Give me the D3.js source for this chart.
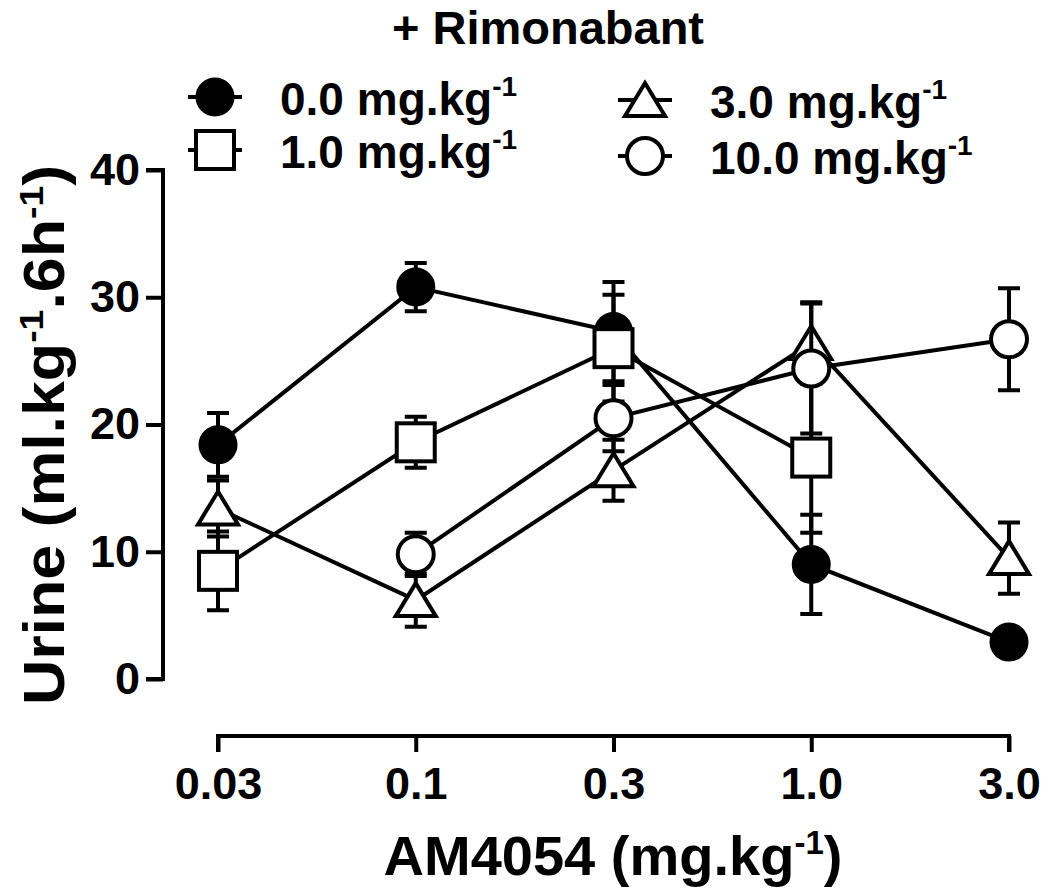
<!DOCTYPE html>
<html>
<head>
<meta charset="utf-8">
<script src="https://cdn.jsdelivr.net/npm/d3@7"></script>
<style>
  body { margin: 0; background: #fff; }
  text { font-family: "Liberation Sans", Arial, sans-serif; font-weight: bold; fill: #000; }
</style>
</head>
<body>
<div id="chart"></div>
<script>
var width = 1050,
    height = 894;

// AM4054 doses (x categories)
var doses = ["0.03", "0.1", "0.3", "1.0", "3.0"];
var yTicks = [0, 10, 20, 30, 40];

// rimonabant groups
var groups = ["0.0", "1.0", "3.0", "10.0"];
var symbols = ["filledCircle", "square", "triangle", "openCircle"];

// mean urine output, null = not tested
var rim00 = [18.4, 30.8, 27.3, 9.0, 2.9];
var rim10 = [8.5, 18.6, 26.0, 17.4, null];
var rim30 = [13.4, 6.2, 16.4, 26.4, 9.5];
var rim100 = [null, 9.8, 20.5, 24.4, 26.7];

// SEM
var sem00 = [2.5, 1.9, 3.9, 3.9, 0.6];
var sem10 = [3.1, 2.0, 4.2, 5.9, null];
var sem30 = [2.2, 2.1, 2.4, 3.2, 2.8];
var sem100 = [null, 1.7, 2.6, 5.1, 4.0];

var means = [rim00, rim10, rim30, rim100];
var sems = [sem00, sem10, sem30, sem100];

var x = d3.scalePoint()
    .domain(doses)
    .range([218, 1009]);

var y = d3.scaleLinear()
    .domain([0, 40])
    .range([679, 170]);

var svg = d3.select("#chart").append("svg")
    .attr("width", width)
    .attr("height", height);

// y axis
var yAxis = svg.append("g")
    .attr("transform", "translate(163,0)")
    .call(d3.axisLeft(y).tickValues(yTicks).tickSize(17).tickPadding(6));
yAxis.select(".domain").attr("d", "M-17," + y(0) + "H0V" + y(40) + "H-17");

// x axis, offset below the plot
var xAxis = svg.append("g")
    .attr("transform", "translate(0,736)")
    .call(d3.axisBottom(x).tickSize(16).tickPadding(15));
xAxis.select(".domain").attr("d", "M" + x(doses[0]) + ",16V0H" + x(doses[4]) + "V16");

svg.selectAll(".tick line, .domain")
    .attr("stroke", "#000")
    .attr("stroke-width", 4)
    .attr("fill", "none");
svg.selectAll(".tick text")
    .style("font-size", "45px");

// axis titles
var yTitle = svg.append("text")
    .attr("transform", "translate(64,435) rotate(-90) scale(1.1,1)")
    .attr("text-anchor", "middle")
    .style("font-size", "57px");
yTitle.append("tspan").text("Urine (ml.kg");
yTitle.append("tspan").attr("dy", -21).style("font-size", "34px").text("-1");
yTitle.append("tspan").attr("dy", 21).text(".6h");
yTitle.append("tspan").attr("dy", -21).style("font-size", "34px").text("-1");
yTitle.append("tspan").attr("dy", 21).text(")");

var xTitle = svg.append("text")
    .attr("x", 613)
    .attr("y", 875)
    .attr("text-anchor", "middle")
    .style("font-size", "56px");
xTitle.append("tspan").text("AM4054 (mg.kg");
xTitle.append("tspan").attr("dy", -21).style("font-size", "33px").text("-1");
xTitle.append("tspan").attr("dy", 21).text(")");

// title
svg.append("text")
    .attr("x", 548)
    .attr("y", 44)
    .attr("text-anchor", "middle")
    .style("font-size", "47px")
    .text("+ Rimonabant");

function drawSymbol(g, type) {
  if (type == "filledCircle") {
    g.append("circle").attr("r", 18).attr("fill", "#000").attr("stroke", "#000").attr("stroke-width", 3);
  } else if (type == "openCircle") {
    g.append("circle").attr("r", 18).attr("fill", "#fff").attr("stroke", "#000").attr("stroke-width", 4);
  } else if (type == "square") {
    g.append("rect").attr("x", -19).attr("y", -19).attr("width", 38).attr("height", 38)
        .attr("fill", "#fff").attr("stroke", "#000").attr("stroke-width", 4);
  } else {
    g.append("path").attr("d", "M0,-17L20,16H-20Z")
        .attr("fill", "#fff").attr("stroke", "#000").attr("stroke-width", 4)
        .attr("stroke-linejoin", "miter");
  }
}

function points(i) {
  return doses.map(function(d, j) {
    return { dose: d, mean: means[i][j], sem: sems[i][j] };
  }).filter(function(p) { return p.mean != null; });
}

var line = d3.line()
    .x(function(d) { return x(d.dose); })
    .y(function(d) { return y(d.mean); });

// connecting lines
groups.forEach(function(grp, i) {
  svg.append("path")
      .datum(points(i))
      .attr("d", line)
      .attr("fill", "none")
      .attr("stroke", "#000")
      .attr("stroke-width", 4);
});

// error bars and markers, one group after another
groups.forEach(function(grp, i) {
  var pts = points(i);
  var eb = svg.append("g");
  pts.forEach(function(p) {
    var cx = x(p.dose);
    var hi = y(p.mean + p.sem), lo = y(p.mean - p.sem);
    eb.append("path")
        .attr("d", "M" + cx + "," + hi + "V" + lo +
                   "M" + (cx - 11) + "," + hi + "H" + (cx + 11) +
                   "M" + (cx - 11) + "," + lo + "H" + (cx + 11))
        .attr("fill", "none")
        .attr("stroke", "#000")
        .attr("stroke-width", 4);
  });
  pts.forEach(function(p) {
    var g = svg.append("g").attr("transform", "translate(" + x(p.dose) + "," + y(p.mean) + ")");
    drawSymbol(g, symbols[i]);
  });
});

// legend
var legendPos = [[215, 97], [215, 150], [645, 100], [645, 156]];
groups.forEach(function(grp, i) {
  var lx = legendPos[i][0], ly = legendPos[i][1];
  svg.append("path")
      .attr("d", "M" + (lx - 27) + "," + ly + "H" + (lx + 27))
      .attr("stroke", "#000")
      .attr("stroke-width", 4);
  var g = svg.append("g").attr("transform", "translate(" + lx + "," + ly + ")");
  drawSymbol(g, symbols[i]);
  var t = svg.append("text")
      .attr("x", lx + 65)
      .attr("y", ly + 18)
      .style("font-size", "46px");
  t.append("tspan").text(grp + " mg.kg");
  t.append("tspan").attr("dy", -19).style("font-size", "28px").text("-1");
});
</script>
</body>
</html>
